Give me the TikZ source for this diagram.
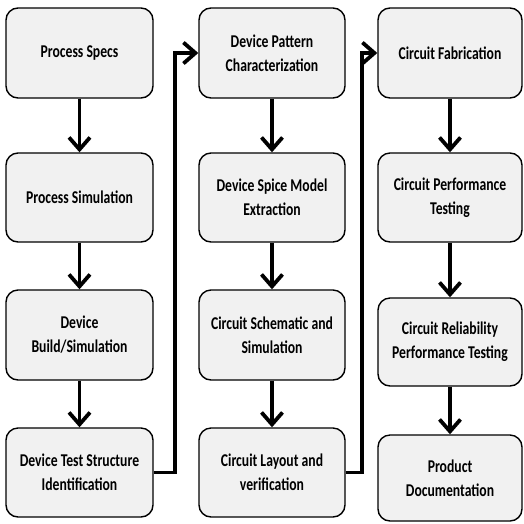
\documentclass[tikz,border=0pt]{standalone}
\usepackage{fontspec}
\setmainfont{Carlito}[FakeStretch=0.76]
\usetikzlibrary{arrows.meta}
\begin{document}
\begin{tikzpicture}[x=1pt,y=-1pt,
  box/.style={draw=black, line width=1.4pt, fill=boxgray, rounded corners=12pt,
    inner sep=0pt, align=center, font=\fontsize{18}{24}\selectfont\bfseries},
  flow/.style={line width=3.8pt, -{Straight Barb[length=12pt,width=21pt]}}]
\definecolor{boxgray}{HTML}{F1F1F1}
\useasboundingbox (0,0) rectangle (524,523);
% column 1
\node[box, minimum width=147pt, minimum height=90pt] (a1) at (79.5,53) {Process Specs};
\node[box, minimum width=147pt, minimum height=89pt] (a2) at (79.5,197.5) {Process Simulation};
\node[box, minimum width=147pt, minimum height=90pt] (a3) at (79.5,335) {Device\\Build/Simulation};
\node[box, minimum width=147pt, minimum height=89pt] (a4) at (79.5,472.5) {Device Test Structure\\Identification};
% column 2
\node[box, minimum width=146pt, minimum height=90pt] (b1) at (272,53) {Device Pattern\\Characterization};
\node[box, minimum width=146pt, minimum height=89pt] (b2) at (272,197.5) {Device Spice Model\\Extraction};
\node[box, minimum width=146pt, minimum height=90pt] (b3) at (272,335) {Circuit Schematic and\\Simulation};
\node[box, minimum width=146pt, minimum height=89pt] (b4) at (272,472.5) {Circuit Layout and\\verification};
% column 3
\node[box, minimum width=144pt, minimum height=90pt] (c1) at (450,53) {Circuit Fabrication};
\node[box, minimum width=144pt, minimum height=89pt] (c2) at (450,197.5) {Circuit Performance\\Testing};
\node[box, minimum width=144pt, minimum height=88pt] (c3) at (450,342) {Circuit Reliability\\Performance Testing};
\node[box, minimum width=144pt, minimum height=86pt] (c4) at (450,478) {Product\\Documentation};
% vertical arrows
\foreach \u/\v in {a1/a2,a2/a3,a3/a4,b1/b2,b2/b3,b3/b4,c1/c2,c2/c3,c3/c4}
  \draw[flow] (\u.south) -- (\v.north);
% column links
\draw[flow, line join=miter] (a4.east) -| (175,53) -- (b1.west);
\draw[flow, line join=miter] (b4.east) -| (362,53) -- (c1.west);
\end{tikzpicture}
\end{document}
